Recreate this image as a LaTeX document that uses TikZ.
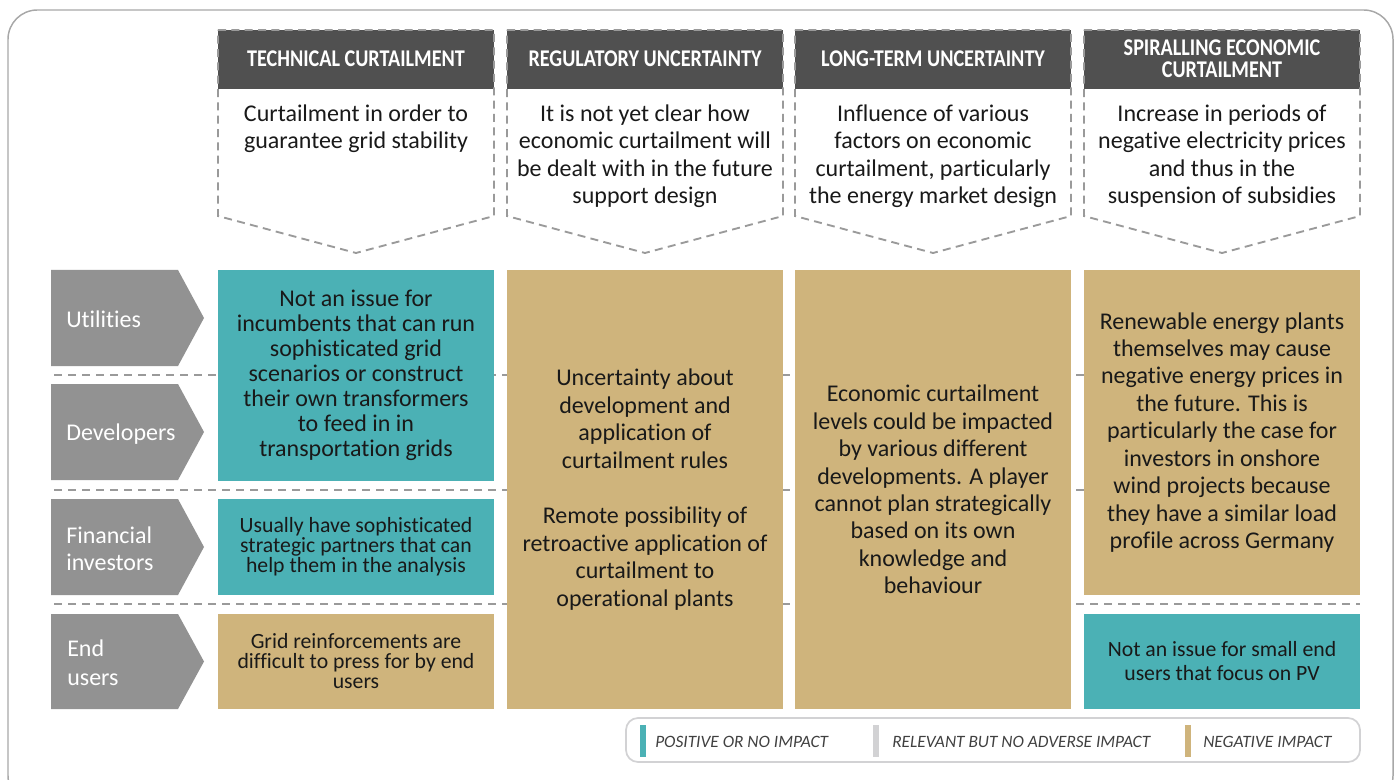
\documentclass[tikz,border=0pt]{standalone}
\usepackage{fontspec}
\setmainfont[Ligatures=NoCommon]{Carlito}
\newfontfamily\headfont[FakeStretch=0.84,Ligatures=NoCommon]{Carlito}
\definecolor{teal}{HTML}{4BB1B5}
\definecolor{tan}{HTML}{CFB47C}
\definecolor{arrowgray}{HTML}{929292}
\definecolor{headgray}{HTML}{505050}
\definecolor{dashgray}{HTML}{9A9A9A}
\definecolor{framegray}{HTML}{A8A8A8}
\definecolor{leggray}{HTML}{D2D2D4}
\definecolor{legtext}{HTML}{404040}
\begin{document}
\begin{tikzpicture}[x=0.75pt,y=-0.75pt,
  sepline/.style={draw=dashgray,line width=1.8pt,dash pattern=on 6pt off 4.5pt},
  chev/.style={draw=dashgray,line width=1.4pt,dash pattern=on 6pt off 4pt},
  headtxt/.style={text=white,font=\headfont\bfseries\fontsize{18}{16.5}\selectfont,align=center,inner sep=0pt},
  desctxt/.style={text=black!90,font=\fontsize{18}{20.3}\selectfont,align=center,inner sep=0pt,anchor=north},
  rowarrow/.style={fill=arrowgray,draw=none},
  rowtxt/.style={text=white,font=\fontsize{18}{20.5}\selectfont,align=left,anchor=west,inner sep=0pt},
  cell/.style={draw=none,inner sep=0pt,align=center,text=black!90,font=\fontsize{18}{20.6}\selectfont,minimum width=207pt},
  legtxt/.style={text=legtext,font=\itshape\fontsize{13}{14}\selectfont,anchor=west,inner sep=0pt}
]
\useasboundingbox (0,0) rectangle (1394,780);
% outer frame
\draw[framegray,line width=1.1pt,rounded corners=22pt] (8,10) rectangle (1393,805);

% horizontal separators
\draw[sepline] (54,375) -- (1360,375);
\draw[sepline] (54,490) -- (1360,490);
\draw[sepline] (54,604) -- (1360,604);

% column headers
\foreach \cx in {356,645,933,1222}{
  \fill[white] (\cx-138,30) -- (\cx+138,30) -- (\cx+138,216) -- (\cx,253) -- (\cx-138,216) -- cycle;
  \fill[headgray] (\cx-138,30) rectangle (\cx+138,89);
  \draw[chev] (\cx-138,30) -- (\cx+138,30) -- (\cx+138,216) -- (\cx,253) -- (\cx-138,216) -- cycle;
}
\node[headtxt] (t1) at (356,59) {TECHNICAL CURTAILMENT};
\node[headtxt] (t2) at (645,59) {REGULATORY UNCERTAINTY};
\node[headtxt] (t3) at (933,59) {LONG-TERM UNCERTAINTY};
\node[headtxt] (t4) at (1222,58.5) {SPIRALLING ECONOMIC\\CURTAILMENT};

\node[desctxt] (d1) at (356,105) {Curtailment in order to\\guarantee grid stability};
\node[desctxt] (d2) at (645,105) {It is not yet clear how\\economic curtailment will\\be dealt with in the future\\support design};
\node[desctxt] (d3) at (933,105) {Influence of various\\factors on economic\\curtailment, particularly\\the energy market design};
\node[desctxt] (d4) at (1222,105) {Increase in periods of\\negative electricity prices\\and thus in the\\suspension of subsidies};

% row labels
\foreach \ya/\yb in {270/366,384/480,499/595,614/709}{
  \fill[rowarrow] (51,\ya) -- (178,\ya) -- (204,{(\ya+\yb)/2}) -- (178,\yb) -- (51,\yb) -- cycle;
}
\node[rowtxt] (r1) at (66,319) {Utilities};
\node[rowtxt] (r2) at (66,434) {Developers};
\node[rowtxt] (r3) at (66,549) {Financial\\investors};
\node[rowtxt,font=\fontsize{18}{21.5}\selectfont] (r4) at (67,663) {End\\users};

% column 1 cells
\node[cell,fill=teal,minimum height=158.25pt,font=\fontsize{18}{18.75}\selectfont] (c11) at (356,375.5)
 {Not an issue for\\incumbents that can run\\sophisticated grid\\scenarios or construct\\their own transformers\\to feed in in\\transportation grids};
\node[cell,fill=teal,minimum height=72pt,font=\fontsize{16.3}{15}\selectfont] (c13) at (356,547)
 {Usually have sophisticated\\strategic partners that can\\help them in the analysis};
\node[cell,fill=tan,minimum height=71.25pt,font=\fontsize{16.3}{15}\selectfont] (c14) at (356,661.5)
 {Grid reinforcements are\\difficult to press for by end\\users};

% column 2
\node[cell,fill=tan,minimum height=329.25pt,font=\fontsize{18}{20.7}\selectfont] (c2) at (645,489.5)
 {Uncertainty about\\development and\\application of\\curtailment rules\\[20.7pt]Remote possibility of\\retroactive application of\\curtailment to\\operational plants};
% column 3
\node[cell,fill=tan,minimum height=329.25pt] (c3) at (933,489.5)
 {Economic curtailment\\levels could be impacted\\by various different\\developments. A player\\cannot plan strategically\\based on its own\\knowledge and\\behaviour};
% column 4
\node[cell,fill=tan,minimum height=243.75pt] (c41) at (1222,432.5)
 {Renewable energy plants\\themselves may cause\\negative energy prices in\\the future. This is\\particularly the case for\\investors in onshore\\wind projects because\\they have a similar load\\profile across Germany};
\node[cell,fill=teal,minimum height=71.25pt,font=\fontsize{16.3}{18}\selectfont] (c44) at (1222,661.5)
 {Not an issue for small end\\users that focus on PV};

% legend
\draw[leggray,line width=1.3pt,rounded corners=9pt] (626,718) rectangle (1360,762);
\fill[teal] (640,725) rectangle (646,757);
\fill[leggray] (873,725) rectangle (879,757);
\fill[tan] (1185,725) rectangle (1191,757);
\node[legtxt] (l1) at (655,742) {POSITIVE OR NO IMPACT};
\node[legtxt] (l2) at (892,742) {RELEVANT BUT NO ADVERSE IMPACT};
\node[legtxt] (l3) at (1203,742) {NEGATIVE IMPACT};
\end{tikzpicture}
\end{document}
